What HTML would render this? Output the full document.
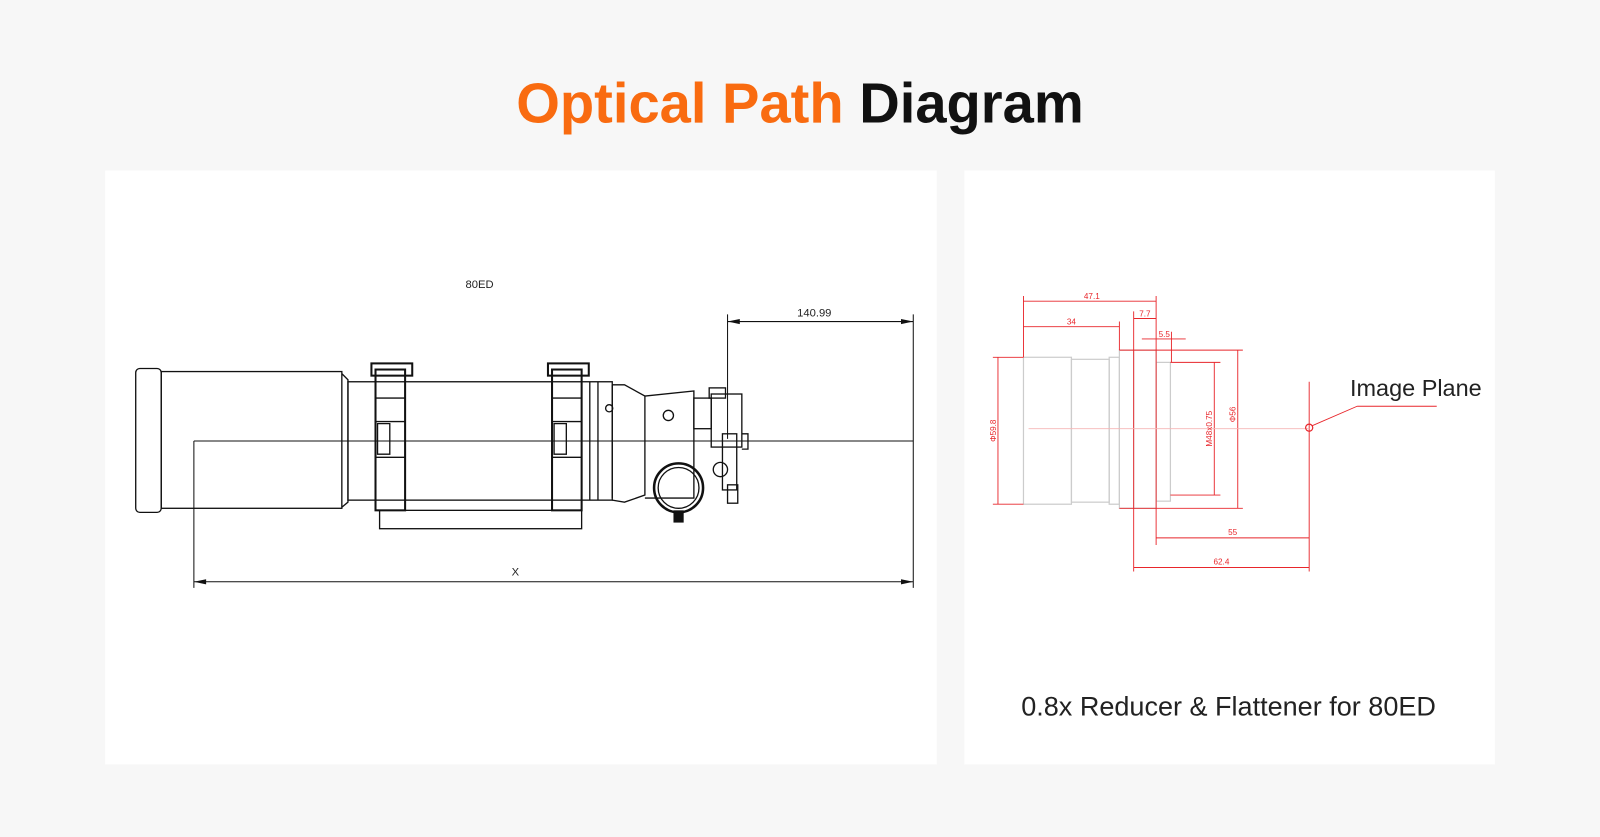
<!DOCTYPE html>
<html><head><meta charset="utf-8"><style>
html,body{margin:0;padding:0;background:#f7f7f7;}
svg{display:block}
</style></head><body>
<svg width="1600" height="837" viewBox="0 0 1568 820" xmlns="http://www.w3.org/2000/svg">
<rect width="1568" height="820" fill="#f7f7f7"/>
<text x="784" y="120" text-anchor="middle" font-family="Liberation Sans, sans-serif" font-weight="bold" font-size="55"><tspan fill="#f96b10">Optical Path</tspan><tspan fill="#111"> Diagram</tspan></text>
<rect x="103" y="167" width="815" height="582" fill="#fff"/>
<rect x="945" y="167" width="520" height="582" fill="#fff"/>

<g fill="none" stroke="#111" stroke-width="1.3">
<rect x="133" y="361" width="25" height="141" rx="4"/>
<rect x="158" y="364" width="177" height="134"/>
<path d="M335 366 L341 372 L341 492 L335 497"/>
<rect x="341" y="374" width="259" height="116"/>
<rect x="364" y="356" width="40" height="12" stroke-width="2"/>
<rect x="368" y="362" width="29" height="138" stroke-width="2"/>
<path d="M368 390 H397 M368 413 H397 M370 415 h12 v30 h-12 z M368 448 H397"/>
<rect x="537" y="356" width="40" height="12" stroke-width="2"/>
<rect x="541" y="362" width="29" height="138" stroke-width="2"/>
<path d="M541 390 H570 M541 413 H570 M543 415 h12 v30 h-12 z M541 448 H570"/>
<rect x="372" y="500" width="198" height="18"/>
<path d="M578 374 V490 M586 374 V490 M600 377 V488"/>
<path d="M600 377 L612 377 L632 388 V485 L612 492 L600 490"/>
<circle cx="597" cy="400" r="3.5"/>
<path d="M632 388 L680 383 V488 H632"/>
<circle cx="655" cy="407" r="5"/>
<rect x="680" y="390" width="17" height="30"/>
<rect x="697" y="386" width="30" height="52"/>
<rect x="708" y="425" width="14" height="55"/>
<rect x="713" y="475" width="10" height="18"/>
<path d="M727 425 H733 V440 H727"/>
<circle cx="706" cy="460" r="7"/>
<circle cx="665" cy="478" r="24" stroke-width="2.5"/>
<circle cx="665" cy="478" r="20"/>
<rect x="695" y="380" width="16" height="10"/>
</g>
<rect x="660" y="500" width="10" height="12" fill="#111"/>
<g stroke="#111" stroke-width="1" fill="none">
<path d="M190 432 H895"/>
<path d="M190 432 V576 M895 308 V576 M713 308 V430"/>
<path d="M190 570 H895 M713 315 H895"/>
</g>
<g fill="#111">
<path d="M190 570 l12 -2.5 v5 z M895 570 l-12 -2.5 v5 z M713 315 l12 -2.5 v5 z M895 315 l-12 -2.5 v5 z"/>
</g>
<g font-family="Liberation Sans, sans-serif" font-size="11" fill="#222" text-anchor="middle">
<text x="470" y="282">80ED</text>
<text x="798" y="310">140.99</text>
<text x="505" y="564">X</text>
</g>

<g fill="none" stroke="#ccc" stroke-width="1.2">
<rect x="1003" y="350" width="47" height="144"/>
<rect x="1050" y="352" width="37" height="140"/>
<rect x="1087" y="350" width="10" height="144"/>
<rect x="1097" y="343" width="36" height="155"/>
<path d="M1111 343 V498"/>
<rect x="1133" y="355" width="14" height="136"/>
</g>
<g fill="none" stroke="#e8262b" stroke-width="0.9">
<path d="M1003 290 V350 M1133 290 V534 M1097 315 V343 M1111 305 V560 M1148 325 V355"/>
<path d="M1003 295 H1133 M1003 320 H1097 M1111 312 H1133 M1119 332 H1162"/>
<path d="M973 350 H1003 M973 494 H1003 M978 350 V494"/>
<path d="M1097 343 H1218 M1097 498 H1218 M1213 343 V498"/>
<path d="M1147 355 H1196 M1147 485 H1196 M1190 355 V485"/>
<path d="M1133 527 H1283 M1111 556 H1283 M1283 374 V560"/>
<path d="M1330 398 H1408 M1330 398 L1286 417"/>
</g>
<path d="M1008 420 H1283" stroke="#f5b5b5" stroke-width="0.8"/>
<circle cx="1283" cy="419" r="3.5" fill="none" stroke="#e8262b" stroke-width="1.2"/>
<g font-family="Liberation Sans, sans-serif" font-size="8" fill="#e8262b" text-anchor="middle">
<text x="1070" y="293">47.1</text>
<text x="1050" y="318">34</text>
<text x="1122" y="310">7.7</text>
<text x="1141" y="330">5.5</text>
<text x="1208" y="524">55</text>
<text x="1197" y="553">62.4</text>
<text transform="translate(976 422) rotate(-90)">Φ59.8</text>
<text transform="translate(1188 420) rotate(-90)">M48x0.75</text>
<text transform="translate(1211 406) rotate(-90)">Φ56</text>
</g>
<text x="1323" y="388" font-family="Liberation Sans, sans-serif" font-size="23" fill="#222">Image Plane</text>
<text x="1204" y="701" text-anchor="middle" font-family="Liberation Sans, sans-serif" font-size="26.5" fill="#222">0.8x Reducer &amp; Flattener for 80ED</text>
</svg>
</body></html>
